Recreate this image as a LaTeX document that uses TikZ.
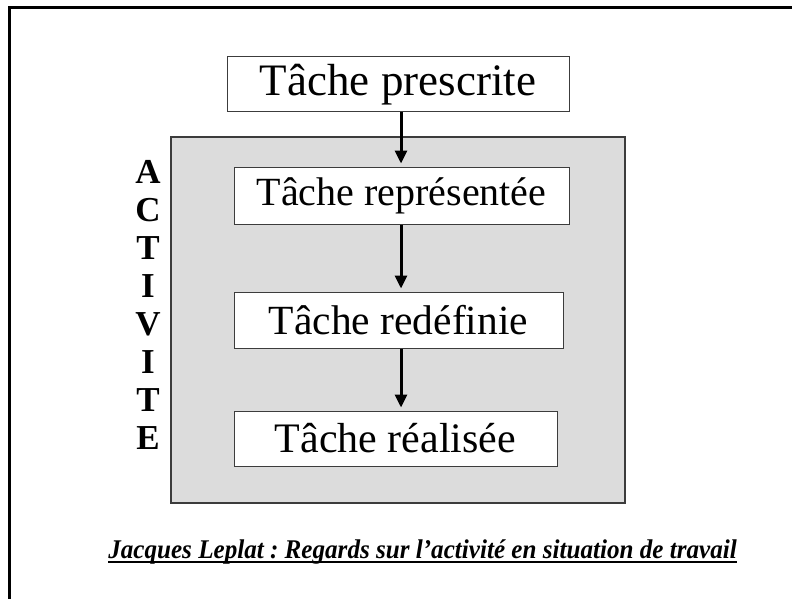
\documentclass[tikz,border=0pt]{standalone}
\usepackage{fontspec}
\setmainfont{Liberation Serif}
\usepackage{xcolor}
\usetikzlibrary{arrows.meta,positioning}
\frenchspacing

\definecolor{zonegray}{RGB}{220,220,220}
\definecolor{edgegray}{RGB}{60,60,60}

\begin{document}
\begin{tikzpicture}[
    x=1pt,y=-1pt,
    tache/.style={rectangle,draw=edgegray,line width=1pt,fill=white,inner sep=0pt},
    lettre/.style={inner sep=0pt,anchor=base,font=\fontsize{35}{36}\selectfont\bfseries},
    fleche/.style={line width=3pt,-{Triangle[length=13pt,width=12pt]},shorten >=3pt}
]
\useasboundingbox (0,0) rectangle (792,599);
\draw[line width=3pt] (9,599) -- (9,8) -- (792,8);
\filldraw[fill=zonegray,draw=edgegray,line width=1.2pt] (171,137) rectangle (625,503);

\node[tache,minimum width=342pt,minimum height=55pt,font=\fontsize{45}{48}\selectfont] (prescrite) at (398,84.5) {Tâche prescrite};
\node[tache,minimum width=335pt,minimum height=57pt,font=\fontsize{40}{42}\selectfont] (representee) at (401.5,195.5) {Tâche représentée};
\node[tache,minimum width=329pt,minimum height=56pt,font=\fontsize{41.5}{44}\selectfont] (redefinie) at (398.5,320) {Tâche redéfinie};
\node[tache,minimum width=323pt,minimum height=55pt,font=\fontsize{42}{44}\selectfont] (realisee) at (395.5,438.5) {Tâche réalisée};

\foreach \c [count=\i] in {A,C,T,I,V,I,T,E}
  \node[lettre] (l\i) at (148,{183+38*(\i-1)}) {\c};

\draw[fleche] (prescrite.south -| 401,0) -- (representee.north -| 401,0);
\draw[fleche] (representee.south -| 401,0) -- (redefinie.north -| 401,0);
\draw[fleche] (redefinie.south -| 401,0) -- (realisee.north -| 401,0);

\node[font=\fontsize{27}{30}\selectfont\bfseries\itshape,anchor=base,inner sep=0pt,xscale=0.93] (source) at (422.5,558)
  {Jacques Leplat : Regards sur l’activité en situation de travail};
\draw[line width=2pt] ([yshift=-4pt]source.base west) -- ([yshift=-4pt]source.base east);
\end{tikzpicture}
\end{document}
